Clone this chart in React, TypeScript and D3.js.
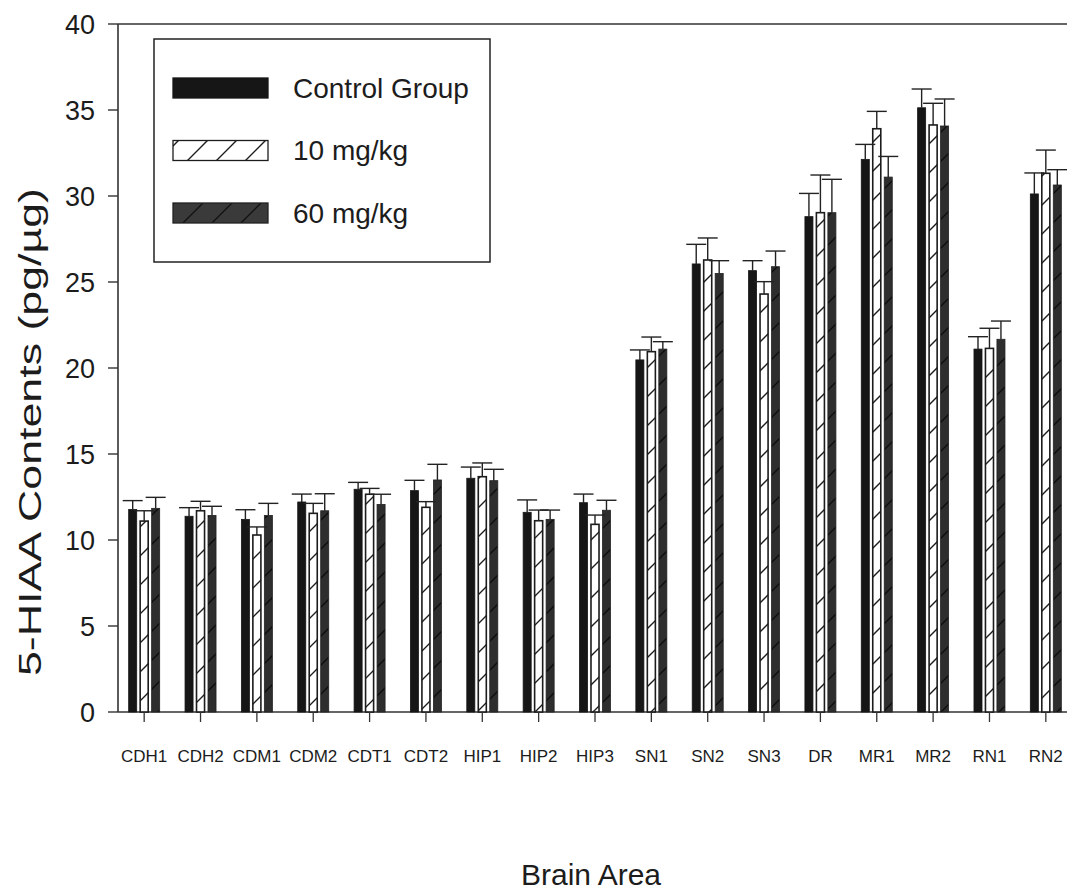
import React from "react";
import * as d3 from "d3";

const categories = ["CDH1", "CDH2", "CDM1", "CDM2", "CDT1", "CDT2", "HIP1", "HIP2", "HIP3", "SN1", "SN2", "SN3", "DR", "MR1", "MR2", "RN1", "RN2"];
const seriesNames = ["Control Group", "10 mg/kg", "60 mg/kg"];
const controlValues = [11.78, 11.38, 11.2, 12.21, 12.95, 12.87, 13.59, 11.61, 12.17, 20.47, 26.05, 25.66, 28.8, 32.13, 35.13, 21.1, 30.12];
const controlErrors = [0.51, 0.5, 0.56, 0.46, 0.4, 0.6, 0.65, 0.72, 0.5, 0.58, 1.14, 0.58, 1.35, 0.87, 1.09, 0.72, 1.22];
const dose10Values = [11.1, 11.7, 10.29, 11.55, 12.66, 11.9, 13.68, 11.12, 10.91, 20.95, 26.28, 24.3, 29.03, 33.91, 34.13, 21.14, 31.32];
const dose10Errors = [0.6, 0.55, 0.47, 0.58, 0.34, 0.33, 0.8, 0.62, 0.54, 0.85, 1.28, 0.72, 2.19, 1.01, 1.26, 1.17, 1.35];
const dose60Values = [11.84, 11.43, 11.43, 11.7, 12.07, 13.49, 13.45, 11.2, 11.73, 21.1, 25.5, 25.89, 29.03, 31.1, 34.07, 21.67, 30.64];
const dose60Errors = [0.64, 0.53, 0.7, 0.99, 0.59, 0.91, 0.66, 0.54, 0.58, 0.43, 0.74, 0.91, 1.94, 1.2, 1.57, 1.06, 0.89];
const yTicks = [0, 5, 10, 15, 20, 25, 30, 35, 40];
const yTitle = "5-HIAA Contents (pg/µg)";
const xTitle = "Brain Area";

const W = 1067;
const H = 891;
const FONT = "'Liberation Sans', Arial, Helvetica, sans-serif";
const INK = "#1c1c1c";

export default function App() {
  const y = d3.scaleLinear().domain([0, 40]).range([712, 24]);
  const x = d3.scaleBand<string>().domain(categories).range([116, 1074]).paddingInner(0).paddingOuter(0);
  const inner = d3.scaleBand<string>().domain(seriesNames).range([-15.5, 15.5]).paddingInner(0.3);
  const axisLeft = 118;

  const seriesData = [
    { name: seriesNames[0], values: controlValues, errors: controlErrors, fill: "#161616", stroke: "#161616" },
    { name: seriesNames[1], values: dose10Values, errors: dose10Errors, fill: "url(#hatchWhite)", stroke: "#1c1c1c" },
    { name: seriesNames[2], values: dose60Values, errors: dose60Errors, fill: "url(#hatchDark)", stroke: "#222" },
  ];

  const bw = inner.bandwidth();
  const center = (c: string) => (x(c) as number) + x.bandwidth() / 2;

  const legendItems = seriesData.map((s, i) => ({ ...s, idx: i }));
  const legendY = [78, 140.5, 203];

  return (
    <svg width={W} height={H} style={{ position: "absolute", left: 0, top: 0, display: "block", background: "#fff" }} fontFamily={FONT}>
      <defs>
        <pattern id="hatchWhite" patternUnits="userSpaceOnUse" width={29} height={29}>
          <rect width={29} height={29} fill="#ffffff" />
          <path d="M0,29 L29,0 M-4,4 L4,-4 M25,33 L33,25" stroke="#1c1c1c" strokeWidth={1.4} />
        </pattern>
        <pattern id="hatchDark" patternUnits="userSpaceOnUse" width={29} height={29}>
          <rect width={29} height={29} fill="#2e2e2e" />
          <path d="M0,29 L29,0 M-4,4 L4,-4 M25,33 L33,25" stroke="#0c0c0c" strokeWidth={1.4} />
        </pattern>
      </defs>

      {/* frame lines */}
      <line x1={axisLeft} x2={W} y1={y(40)} y2={y(40)} stroke="#333" strokeWidth={1.4} />
      <line x1={axisLeft} x2={W} y1={y(0)} y2={y(0)} stroke="#333" strokeWidth={1.6} />
      <line x1={axisLeft} x2={axisLeft} y1={y(40)} y2={y(0)} stroke="#333" strokeWidth={1.6} />

      {/* y ticks */}
      {yTicks.map((t) => (
        <g key={t}>
          <line x1={axisLeft - 10} x2={axisLeft} y1={y(t)} y2={y(t)} stroke="#333" strokeWidth={1.4} />
          <text x={95} y={y(t)} dy="0.36em" textAnchor="end" fontSize={27} fill={INK}>
            {t}
          </text>
        </g>
      ))}

      {/* bars */}
      {seriesData.map((s) => (
        <g key={s.name}>
          {categories.map((c, i) => {
            const bx = center(c) + (inner(s.name) as number);
            const v = s.values[i];
            return (
              <rect
                key={c}
                x={bx}
                y={y(v)}
                width={bw}
                height={y(0) - y(v)}
                fill={s.fill}
                stroke={s.stroke}
                strokeWidth={s.name === seriesNames[1] ? 1.6 : 0.8}
              />
            );
          })}
        </g>
      ))}

      {/* error bars */}
      {seriesData.map((s) => (
        <g key={s.name + "err"} stroke="#222" strokeWidth={1.4}>
          {categories.map((c, i) => {
            const cx = center(c) + (inner(s.name) as number) + bw / 2;
            const v = s.values[i];
            const top = v + s.errors[i];
            return (
              <g key={c}>
                <line x1={cx} x2={cx} y1={y(v)} y2={y(top)} />
                <line x1={cx - 10} x2={cx + 10} y1={y(top)} y2={y(top)} />
              </g>
            );
          })}
        </g>
      ))}

      {/* x ticks and labels */}
      {categories.map((c) => (
        <g key={c}>
          <line x1={center(c)} x2={center(c)} y1={y(0)} y2={y(0) + 10} stroke="#333" strokeWidth={1.3} />
          <text x={center(c)} y={762} textAnchor="middle" fontSize={17} fill={INK}>
            {c}
          </text>
        </g>
      ))}

      {/* axis titles */}
      <text x={591} y={885} textAnchor="middle" fontSize={30} fill={INK}>
        {xTitle}
      </text>
      <text
        transform={`translate(41, 432) rotate(-90)`}
        textAnchor="middle"
        fontSize={32}
        fill={INK}
        textLength={488}
        lengthAdjust="spacingAndGlyphs"
      >
        {yTitle}
      </text>

      {/* legend */}
      <rect x={154} y={39} width={336} height={223} fill="#fff" stroke="#222" strokeWidth={1.5} />
      {legendItems.map((s) => (
        <g key={s.name + "leg"}>
          <rect x={173} y={legendY[s.idx]} width={95} height={20} fill={s.idx === 2 ? "url(#hatchDarkLegend)" : s.fill} stroke={s.stroke} strokeWidth={1.3} />
          <text x={293} y={legendY[s.idx] + 19.5} fontSize={28} fill={INK}>
            {s.name}
          </text>
        </g>
      ))}
      <defs>
        <pattern id="hatchDarkLegend" patternUnits="userSpaceOnUse" width={29} height={29}>
          <rect width={29} height={29} fill="#3a3a3a" />
          <path d="M0,29 L29,0 M-4,4 L4,-4 M25,33 L33,25" stroke="#111" strokeWidth={1.4} />
        </pattern>
      </defs>
    </svg>
  );
}
